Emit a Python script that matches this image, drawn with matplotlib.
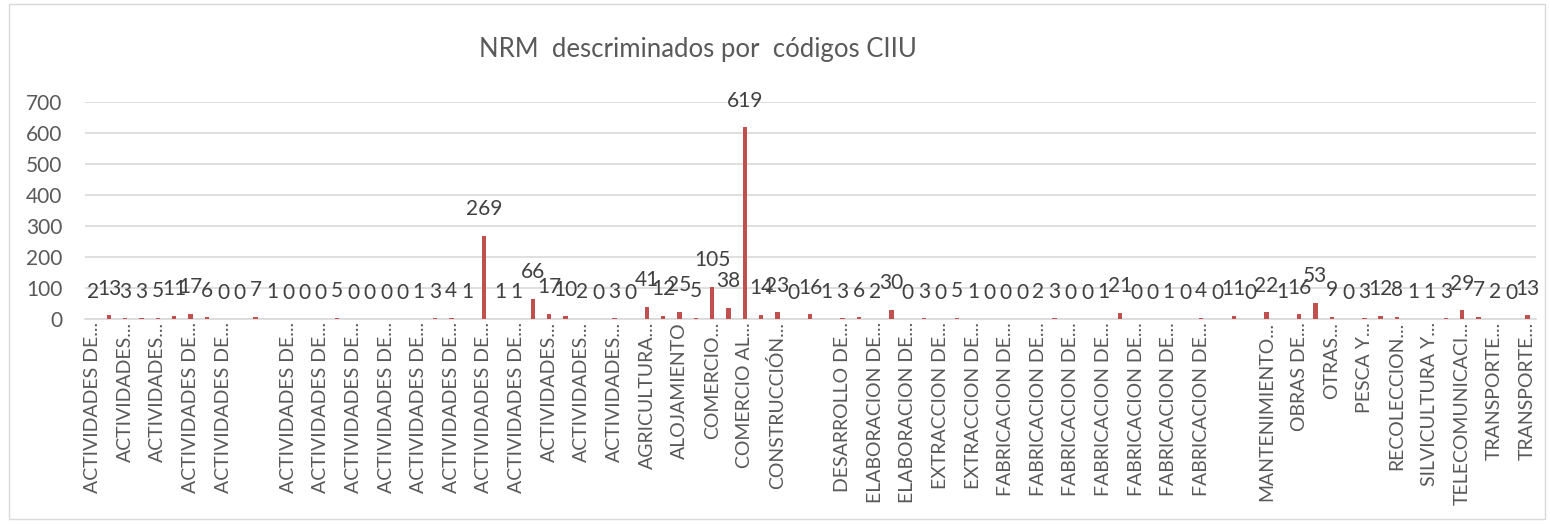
import matplotlib.pyplot as plt
import numpy as np
from matplotlib.patches import Rectangle

plt.rcParams['font.family'] = ['Lato', 'DejaVu Sans']

# NRM count per CIIU code (89 categories, in chart order)
valores = [2, 13, 3, 3, 5, 11, 17, 6, 0, 0,
           7, 1, 0, 0, 0, 5, 0, 0, 0, 0,
           1, 3, 4, 1, 269, 1, 1, 66, 17, 10,
           2, 0, 3, 0, 41, 12, 25, 5, 105, 38,
           619, 14, 23, 0, 16, 1, 3, 6, 2, 30,
           0, 3, 0, 5, 1, 0, 0, 0, 2, 3,
           0, 0, 1, 21, 0, 0, 1, 0, 4, 0,
           11, 0, 22, 1, 16, 53, 9, 0, 3, 12,
           8, 1, 1, 3, 29, 7, 2, 0, 13]

# only every second category label is shown in the original chart
etiquetas = ["ACTIVIDADES DE...", "ACTIVIDADES...", "ACTIVIDADES...",
             "ACTIVIDADES DE...", "ACTIVIDADES DE...", "",
             "ACTIVIDADES DE...", "ACTIVIDADES DE...", "ACTIVIDADES DE...",
             "ACTIVIDADES DE...", "ACTIVIDADES DE...", "ACTIVIDADES DE...",
             "ACTIVIDADES DE...", "ACTIVIDADES DE...", "ACTIVIDADES...",
             "ACTIVIDADES...", "ACTIVIDADES...", "AGRICULTURA...",
             "ALOJAMIENTO", "COMERCIO...", "COMERCIO AL...",
             "CONSTRUCCIÓN...", "", "DESARROLLO DE...",
             "ELABORACION DE...", "ELABORACION DE...", "EXTRACCION DE...",
             "EXTRACCION DE...", "FABRICACION DE...", "FABRICACION DE...",
             "FABRICACION DE...", "FABRICACION DE...", "FABRICACION DE...",
             "FABRICACION DE...", "FABRICACION DE...", "",
             "MANTENIMIENTO...", "OBRAS DE...", "OTRAS...",
             "PESCA Y...", "RECOLECCION...", "SILVICULTURA Y...",
             "TELECOMUNICACI...", "TRANSPORTE...", "TRANSPORTE..."]

titulo = "NRM  descriminados por  códigos CIIU"

W, H = 1550, 524
fig = plt.figure(figsize=(W / 100, H / 100), dpi=100)

# chart border like the Excel chart area
fig.patches.append(Rectangle((9 / W, 1 - 519 / H), 1536 / W, 515 / H,
                             transform=fig.transFigure, fill=False,
                             edgecolor='#D9D9D9', linewidth=1))

ax = fig.add_axes([84.5 / W, 1 - 319.3 / H, 1451 / W, 217 / H])

x = np.arange(len(valores))
bars = ax.bar(x, valores, width=0.27, color='#C0504D', zorder=3)
ax.bar_label(bars, padding=12, fontsize=15, color='#404040')

ax.set_xlim(-0.5, len(valores) - 0.5)
ax.set_ylim(0, 700)
ax.set_yticks(np.arange(0, 701, 100))
ax.grid(axis='y', color='#D9D9D9', linewidth=1.2, zorder=0)

ax.set_xticks(x[::2])
ax.set_xticklabels(etiquetas, rotation=90, ha='center', va='top')

ax.tick_params(axis='y', length=0, pad=16, labelsize=15, labelcolor='#595959')
ax.tick_params(axis='x', length=0, pad=2, labelsize=14, labelcolor='#595959')

for s in ['top', 'right', 'left']:
    ax.spines[s].set_visible(False)
ax.spines['bottom'].set_color('#D9D9D9')
ax.spines['bottom'].set_linewidth(1.2)

fig.text(698 / W, 1 - 50 / H, titulo, ha='center', va='center',
         fontsize=18.5, color='#595959')

fig.savefig('out.png', dpi=100)
